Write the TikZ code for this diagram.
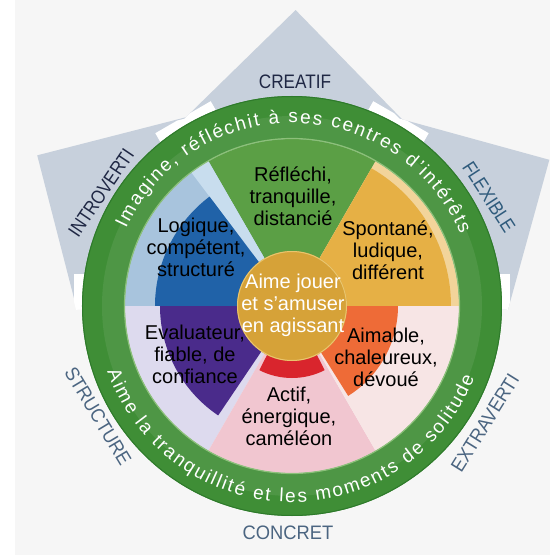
\documentclass[tikz,border=0pt]{standalone}
\usepackage{fontspec}
\setmainfont{Liberation Sans}
\usetikzlibrary{decorations.text}
\definecolor{bgcol}{HTML}{F6F6F6}
\definecolor{arrowcol}{HTML}{C7D0DC}
\definecolor{ringcol}{HTML}{3F8E36}
\definecolor{ringhi}{HTML}{8CC07A}
\definecolor{ringdark}{HTML}{2E7A2B}
\definecolor{greenS}{HTML}{5B9F45}
\definecolor{orangeS}{HTML}{E6B045}
\definecolor{orangeband}{HTML}{F2D49A}
\definecolor{bluelight}{HTML}{A8C4DD}
\definecolor{bluestrip}{HTML}{C8DDEE}
\definecolor{bluedark}{HTML}{2062A8}
\definecolor{purplelight}{HTML}{DDDAEE}
\definecolor{purpledark}{HTML}{4A2B8B}
\definecolor{pinkS}{HTML}{F1C6D0}
\definecolor{redS}{HTML}{D9252D}
\definecolor{rightlight}{HTML}{F7E5E5}
\definecolor{orangered}{HTML}{EE6B37}
\definecolor{centergold}{HTML}{D6A238}
\definecolor{centeredge}{HTML}{E9C56E}
\definecolor{lbldark}{HTML}{1F2744}
\definecolor{lblgray}{HTML}{4B6581}
\definecolor{lblteal}{HTML}{2F5B7C}
\newcommand\mysector[4]{\fill[#1] (0,0) -- (#2:#4) arc (#2:#3:#4) -- cycle;}
\newcommand\ringfont{\fontsize{19}{20}\selectfont}
\newcommand\arrowshape{(0,0) -- (-1:216) -- (29.6:296) -- (60.2:216) -- (89.3:296) -- (119.9:216) -- (149.4:296) -- (180:216) -- cycle}
\begin{document}
\begin{tikzpicture}[x=1pt,y=1pt,
  sectxt/.style={align=center, font=\fontsize{20}{22}\selectfont, text=black, inner sep=0pt},
  ctrtxt/.style={align=center, font=\fontsize{20}{22}\selectfont, inner sep=0pt},
  lbl/.style={font=\fontsize{19.5}{20}\selectfont, inner sep=0pt},
  ringtext/.style={decorate, decoration={text along path, text align={fit to path}, text color=white,
    text={|\ringfont|#1}}}]
\useasboundingbox (-292,-249) rectangle (258,306);
\fill[white] (-292,-249) rectangle (258,306);
\fill[bgcol] (-277,-249) rectangle (258,306);
% arrows (three arrow heads joined behind the ring)
\foreach \a in {29.6,89.3,149.4}
  \fill[arrowcol] (0,0) -- (\a-30.6:216) -- (\a:296) -- (\a+30.6:216) -- cycle;
% white bars at arrow junctions, only where they lie on the arrows
\begin{scope}
\clip (0,0) -- (-1:216) -- (29.6:296) -- (60.2:216) -- (89.3:296) -- (119.9:216) -- (149.4:296) -- (181:216) -- cycle;
\foreach \a in {0,60,120,180}
  \fill[white, rotate=\a] (208,-32) rectangle (218,32);
\end{scope}
% ring
\fill[ringcol, even odd rule] (0,0) circle (210) (0,0) circle (167);
\fill[white, opacity=0.08, even odd rule] (0,0) circle (190) (0,0) circle (167);
\draw[ringdark, line width=1pt] (0,0) circle (209.5);
% sectors
\mysector{greenS}{60}{120}{167}
\mysector{orangeband}{0}{60}{167}
\mysector{orangeS}{0}{60}{159}
\mysector{bluelight}{120}{180}{167}
\mysector{bluestrip}{120}{127}{167}
\mysector{bluedark}{127}{180}{137}
\mysector{purplelight}{180}{240}{167}
\mysector{purpledark}{180}{236}{132}
\mysector{pinkS}{240}{300}{167}
\mysector{redS}{243}{297}{72}
\mysector{rightlight}{300}{360}{167}
\mysector{orangered}{302}{360}{106}
\draw[ringhi, line width=1.2pt] (0,0) circle (167.5);
% centre
\fill[centergold] (0,0) circle (55);
\draw[centeredge, line width=1pt] (0,0) circle (54.5);
% ring texts
\path[ringtext={Imagine, réfléchit à ses centres d'intérêts}] (155:183) arc (155:23:183);
\path[ringtext={Aime la tranquillité et les moments de solitude}] (199.5:196) arc (199.5:338.5:196);
% sector texts
\node[sectxt] (refl) at (1,110) {Réfléchi,\\tranquille,\\distancié};
\node[sectxt] (logi) at (-96,59) {Logique,\\compétent,\\structuré};
\node[sectxt] (spon) at (96,56) {Spontané,\\ludique,\\différent};
\node[sectxt] (eval) at (-97,-48) {Evaluateur,\\fiable, de\\confiance};
\node[sectxt] (aima) at (94,-51) {Aimable,\\chaleureux,\\dévoué};
\node[sectxt] (acti) at (-3,-110) {Actif,\\énergique,\\caméléon};
% centre text
\node[ctrtxt, text=white] (ctext) at (1,1) {Aime jouer\\et s'amuser\\en agissant};
% outer labels
\node[lbl, text=lbldark] (creatif) at (3,224) {\scalebox{0.88}[1]{CREATIF}};
\node[lbl, text=lbldark, rotate=56] (intro) at (-191,113) {\scalebox{0.86}[1]{INTROVERTI}};
\node[lbl, text=lblteal, rotate=-57] (flex) at (197,109) {\scalebox{0.88}[1]{FLEXIBLE}};
\node[lbl, text=lblgray, rotate=-59] (struct) at (-194,-110) {\scalebox{0.92}[1]{STRUCTURE}};
\node[lbl, text=lblgray, rotate=58] (extra) at (193,-117) {\scalebox{0.92}[1]{EXTRAVERTI}};
\node[lbl, text=lblgray] (concret) at (-4,-227) {\scalebox{0.94}[1]{CONCRET}};
\end{tikzpicture}
\end{document}
